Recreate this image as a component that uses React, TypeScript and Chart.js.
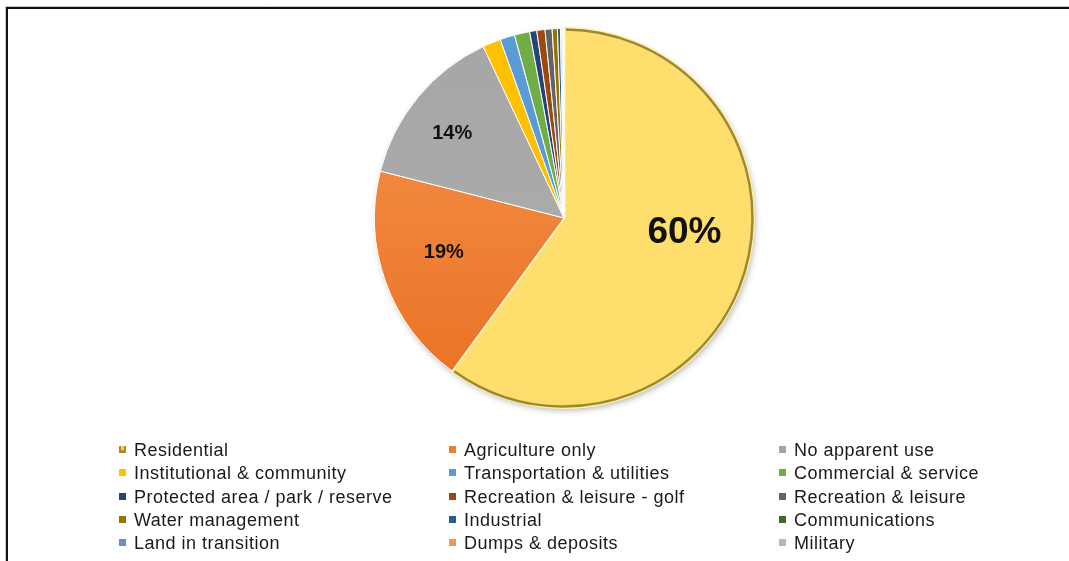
import React, { useEffect, useRef } from "react";
import { Chart, registerables } from "chart.js";
Chart.register(...registerables);

const categories = [
  "Residential",
  "Agriculture only",
  "No apparent use",
  "Institutional & community",
  "Transportation & utilities",
  "Commercial & service",
  "Protected area / park / reserve",
  "Recreation & leisure - golf",
  "Recreation & leisure",
  "Water management",
  "Industrial",
  "Communications",
  "Land in transition",
  "Dumps & deposits",
  "Military",
];

const shares = [60.0, 18.9, 14.0, 1.55, 1.25, 1.3, 0.6, 0.7, 0.6, 0.45, 0.25, 0.1, 0.1, 0.05, 0.05];

const colors = [
  "#FEDF6E",
  "#ED7D31",
  "#A5A5A5",
  "#FFC000",
  "#5B9BD5",
  "#70AD47",
  "#264478",
  "#9E480E",
  "#636363",
  "#997300",
  "#255E91",
  "#43682B",
  "#698ED0",
  "#F1975A",
  "#B7B7B7",
];

const gradientStops: Record<number, [string, string]> = {
  1: ["#F4964F", "#EA7022"],
  2: ["#A6A6A6", "#AEAEAE"],
};

const W = 1069;
const H = 561;
const LEGEND_COLS = [119, 449, 779];
const LEGEND_ROWS = [450, 473, 497, 520, 543];

const framePlugin = {
  id: "frame",
  beforeDraw(chart: any) {
    const ctx = chart.ctx;
    ctx.save();
    ctx.fillStyle = "#ffffff";
    ctx.fillRect(0, 0, W, H);
    ctx.strokeStyle = "#c8c8c8";
    ctx.lineWidth = 1;
    ctx.beginPath();
    ctx.moveTo(5.5, H);
    ctx.lineTo(5.5, 6.5);
    ctx.lineTo(W, 6.5);
    ctx.stroke();
    ctx.strokeStyle = "#111111";
    ctx.lineWidth = 2;
    ctx.beginPath();
    ctx.moveTo(7, H);
    ctx.lineTo(7, 8);
    ctx.lineTo(W, 8);
    ctx.stroke();
    ctx.restore();
  },
  beforeDatasetsDraw(chart: any) {
    const meta = chart.getDatasetMeta(0);
    const a = meta.data[0];
    if (!a) return;
    const p = a.getProps(["x", "y", "outerRadius"], true);
    const ctx = chart.ctx;
    ctx.save();
    ctx.shadowColor = "rgba(0,0,0,0.35)";
    ctx.shadowBlur = 7;
    ctx.shadowOffsetX = 2;
    ctx.shadowOffsetY = 3;
    ctx.fillStyle = "#ffffff";
    ctx.beginPath();
    ctx.arc(p.x, p.y, p.outerRadius - 1, 0, Math.PI * 2);
    ctx.fill();
    ctx.restore();
  },
};

const labelPlugin = {
  id: "sliceLabels",
  afterDatasetsDraw(chart: any) {
    const ctx = chart.ctx;
    const meta = chart.getDatasetMeta(0);
    const data = chart.data.datasets[0].data as number[];
    ctx.save();
    const a0 = meta.data[0].getProps(["x", "y", "startAngle", "endAngle", "outerRadius"], true);
    ctx.strokeStyle = "#9E8834";
    ctx.lineWidth = 2.5;
    ctx.beginPath();
    ctx.arc(a0.x, a0.y, a0.outerRadius - 1, a0.startAngle + 0.01, a0.endAngle - 0.01);
    ctx.stroke();
    ctx.fillStyle = "#111111";
    ctx.textAlign = "center";
    ctx.textBaseline = "middle";
    meta.data.forEach((arc: any, i: number) => {
      const v = data[i];
      if (v < 5) return;
      const p = arc.getProps(["x", "y", "startAngle", "endAngle", "outerRadius"], true);
      const mid = (p.startAngle + p.endAngle) / 2;
      const big = v > 40;
      const frac = big ? 0.63 : v > 16 ? 0.64 : 0.71;
      const r = p.outerRadius * frac;
      const x = p.x + Math.cos(mid) * r;
      const y = p.y + Math.sin(mid) * r;
      ctx.font = big
        ? "bold 37px 'Liberation Sans', Arial, sans-serif"
        : "bold 20px 'Liberation Sans', Arial, sans-serif";
      const dx = big ? 7 : v > 16 ? -6 : -8;
      const dy = big ? -22 : v > 16 ? -6 : 1;
      ctx.fillText(Math.round(v) + "%", x + dx, y + dy);
    });
    ctx.restore();
  },
};

const legendPlugin = {
  id: "gridLegend",
  afterDraw(chart: any) {
    const ctx = chart.ctx;
    const labels = chart.data.labels as string[];
    ctx.save();
    ctx.font = "18px 'Liberation Sans', Arial, sans-serif";
    try {
      (ctx as any).letterSpacing = "0.5px";
    } catch (e) {}
    ctx.textBaseline = "middle";
    ctx.textAlign = "left";
    labels.forEach((lab, i) => {
      const col = i % 3;
      const row = Math.floor(i / 3);
      const bx = LEGEND_COLS[col];
      const cy = LEGEND_ROWS[row];
      ctx.fillStyle = colors[i];
      ctx.fillRect(bx, cy - 4, 7, 7);
      if (i === 0) {
        ctx.fillStyle = "#B08A20";
        ctx.fillRect(bx, cy - 4, 7, 7);
        ctx.fillStyle = "#F5D25A";
        ctx.fillRect(bx + 2, cy - 4, 3, 4);
      }
      ctx.fillStyle = "#1a1a1a";
      ctx.fillText(lab, bx + 15, cy + 1);
    });
    ctx.restore();
  },
};

export default function App() {
  const ref = useRef<HTMLCanvasElement>(null);
  useEffect(() => {
    const canvas = ref.current!;
    const chart = new Chart(canvas, {
      type: "pie",
      data: {
        labels: categories,
        datasets: [
          {
            data: shares,
            backgroundColor: (c: any) => {
              const i = c.dataIndex;
              const stops = gradientStops[i];
              const area = c.chart.chartArea;
              if (!stops || !area) return colors[i];
              const g = c.chart.ctx.createLinearGradient(0, area.top, 0, area.bottom);
              g.addColorStop(0, stops[0]);
              g.addColorStop(1, stops[1]);
              return g;
            },
            borderColor: (c: any) => (c.dataIndex === 0 ? "#FFF3A0" : "#ffffff"),
            borderWidth: (c: any) => (c.dataIndex === 0 ? 3 : 1),
          },
        ],
      },
      options: {
        responsive: false,
        animation: false,
        layout: { padding: { top: 27, bottom: 152, left: 59, right: 0 } },
        plugins: { legend: { display: false }, tooltip: { enabled: false } },
      },
      plugins: [framePlugin, labelPlugin, legendPlugin],
    } as any);
    return () => chart.destroy();
  }, []);
  return (
    <div style={{ position: "absolute", left: 0, top: 0, width: W, height: H }}>
      <canvas ref={ref} width={W} height={H} style={{ display: "block", width: W, height: H }} />
    </div>
  );
}
